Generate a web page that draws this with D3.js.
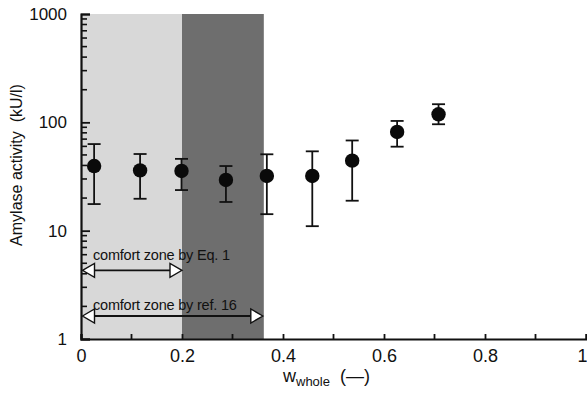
<!DOCTYPE html>
<html>
<head>
<meta charset="utf-8">
<script src="https://cdn.jsdelivr.net/npm/d3@7"></script>
<style>
  body { margin: 0; background: #fff; }
  text { font-family: "Liberation Sans", Arial, sans-serif; fill: #111; }
</style>
</head>
<body>
<div id="chart"></div>
<script>
// données
const wWhole = [0.026, 0.117, 0.199, 0.287, 0.368, 0.458, 0.537, 0.626, 0.708];
const amylase = [39.5, 36, 35.6, 29.4, 32, 32, 44.3, 81.5, 118.6];
const errHigh = [63, 51, 46, 39.5, 50.7, 54, 68, 103, 147];
const errLow = [17.6, 19.7, 23.7, 18.4, 14.2, 11, 18.9, 59.6, 96];

const zoneStart = [0, 0.2];
const zoneEnd = [0.2, 0.362];
const zoneFill = ["#d8d8d8", "#6e6e6e"];

const arrowLabels = ["comfort zone by Eq. 1", "comfort zone by ref. 16"];
const arrowFrom = [0, 0];
const arrowTo = [0.2, 0.36];
const arrowLevel = [4.3, 1.63]; // valeur y (kU/l) de chaque flèche

const xTicks = [0, 0.2, 0.4, 0.6, 0.8, 1];
const xMinor = [0.1, 0.3, 0.5, 0.7, 0.9];
const yTicks = [1, 10, 100, 1000];

const width = 587;
const height = 398;
const margin = { top: 14, right: 1, bottom: 59, left: 81 };

const svg = d3
  .select("#chart")
  .append("svg")
  .attr("width", width)
  .attr("height", height);

const x = d3.scaleLinear().domain([0, 1]).range([margin.left, width - margin.right]);
const y = d3.scaleLog().domain([1, 1000]).range([height - margin.bottom, margin.top]);

// zones grisées
svg
  .selectAll(".zone")
  .data(zoneStart)
  .enter()
  .append("rect")
  .attr("class", "zone")
  .attr("x", (d) => x(d))
  .attr("y", y(1000))
  .attr("width", (d, i) => x(zoneEnd[i]) - x(d))
  .attr("height", y(1) - y(1000))
  .attr("fill", (d, i) => zoneFill[i]);

// petites graduations log (vers l'intérieur)
const yMinor = [];
for (let e = 0; e < 3; e++) {
  for (let k = 2; k <= 9; k++) yMinor.push(k * Math.pow(10, e));
}
svg
  .append("g")
  .attr("class", "minor-y")
  .selectAll("line")
  .data(yMinor)
  .enter()
  .append("line")
  .attr("x1", margin.left)
  .attr("x2", margin.left + 6)
  .attr("y1", (d) => y(d))
  .attr("y2", (d) => y(d))
  .attr("stroke", "#111")
  .attr("stroke-width", 1.6);

svg
  .append("g")
  .attr("transform", "translate(" + margin.left + ",0)")
  .call(d3.axisLeft(y).tickValues(yTicks).tickSize(-9).tickPadding(14).tickFormat(d3.format("d")))
  .call((g) => g.select(".domain").attr("stroke", "#111").attr("stroke-width", 2.2))
  .call((g) => g.selectAll("line").attr("stroke", "#111").attr("stroke-width", 1.8))
  .call((g) => g.selectAll("text").attr("font-size", 17).attr("font-family", "Liberation Sans, Arial").attr("fill", "#111"));

// axe X
svg
  .append("g")
  .attr("class", "minor-x")
  .selectAll("line")
  .data(xMinor)
  .enter()
  .append("line")
  .attr("x1", (d) => x(d))
  .attr("x2", (d) => x(d))
  .attr("y1", height - margin.bottom)
  .attr("y2", height - margin.bottom - 5)
  .attr("stroke", "#111")
  .attr("stroke-width", 1.8);

svg
  .append("g")
  .attr("transform", "translate(0," + (height - margin.bottom) + ")")
  .call(d3.axisBottom(x).tickValues(xTicks).tickSize(-5).tickPadding(10).tickFormat((d) => (d === 0 || d === 1 ? d : d.toFixed(1))))
  .call((g) => g.select(".domain").attr("stroke", "#111").attr("stroke-width", 2.2))
  .call((g) => g.selectAll("line").attr("stroke", "#111").attr("stroke-width", 1.8))
  .call((g) => g.selectAll("text").attr("font-size", 18).attr("font-family", "Liberation Sans, Arial").attr("fill", "#111"))
  .call((g) => g.selectAll("text").filter((d) => d === 1).attr("text-anchor", "end").attr("dx", 1));

// barres d'erreur
const pts = wWhole.map((w, i) => ({ w: w, v: amylase[i], hi: errHigh[i], lo: errLow[i] }));
const capW = 6.5;
const bars = svg.append("g").attr("stroke", "#111").attr("stroke-width", 1.8);
bars
  .selectAll(".stem")
  .data(pts)
  .enter()
  .append("line")
  .attr("x1", (d) => x(d.w))
  .attr("x2", (d) => x(d.w))
  .attr("y1", (d) => y(d.hi))
  .attr("y2", (d) => y(d.lo));
["hi", "lo"].forEach((k) => {
  bars
    .selectAll(".cap-" + k)
    .data(pts)
    .enter()
    .append("line")
    .attr("x1", (d) => x(d.w) - capW)
    .attr("x2", (d) => x(d.w) + capW)
    .attr("y1", (d) => y(d[k]))
    .attr("y2", (d) => y(d[k]));
});

// points
svg
  .selectAll(".dot")
  .data(pts)
  .enter()
  .append("circle")
  .attr("class", "dot")
  .attr("cx", (d) => x(d.w))
  .attr("cy", (d) => y(d.v))
  .attr("r", 7.2)
  .attr("fill", "#0a0a0a");

// flèches "comfort zone"
const headL = 12;
const headH = 7;
arrowLabels.forEach((label, i) => {
  const g = svg.append("g");
  const x0 = x(arrowFrom[i]) + 1.5;
  const x1 = x(arrowTo[i]);
  const yy = y(arrowLevel[i]);
  g.append("line")
    .attr("x1", x0 + headL)
    .attr("x2", x1 - headL)
    .attr("y1", yy)
    .attr("y2", yy)
    .attr("stroke", "#111")
    .attr("stroke-width", 1.8);
  g.append("path")
    .attr("d", `M${x0},${yy} L${x0 + headL},${yy - headH} L${x0 + headL},${yy + headH} Z`)
    .attr("fill", "#fff")
    .attr("stroke", "#111")
    .attr("stroke-width", 1.4);
  g.append("path")
    .attr("d", `M${x1},${yy} L${x1 - headL},${yy - headH} L${x1 - headL},${yy + headH} Z`)
    .attr("fill", "#fff")
    .attr("stroke", "#111")
    .attr("stroke-width", 1.4);
  g.append("text")
    .attr("x", x(arrowFrom[i]) + 12)
    .attr("y", yy - (i === 0 ? 10 : 6))
    .attr("font-size", 14.5)
    .attr("letter-spacing", -0.2)
    .text(label);
});

// titres des axes
svg
  .append("text")
  .attr("transform", "translate(22,165) rotate(-90)")
  .attr("text-anchor", "middle")
  .attr("font-size", 16)
  .attr("xml:space", "preserve")
  .text("Amylase activity  (kU/l)");

const xl = svg
  .append("text")
  .attr("x", 283)
  .attr("y", 382)
  .attr("font-size", 18);
xl.append("tspan").text("w");
xl.append("tspan").attr("font-size", 13).attr("dy", 4).text("whole");
xl.append("tspan").attr("dy", -4).attr("dx", 10).text("(—)");
</script>
</body>
</html>
